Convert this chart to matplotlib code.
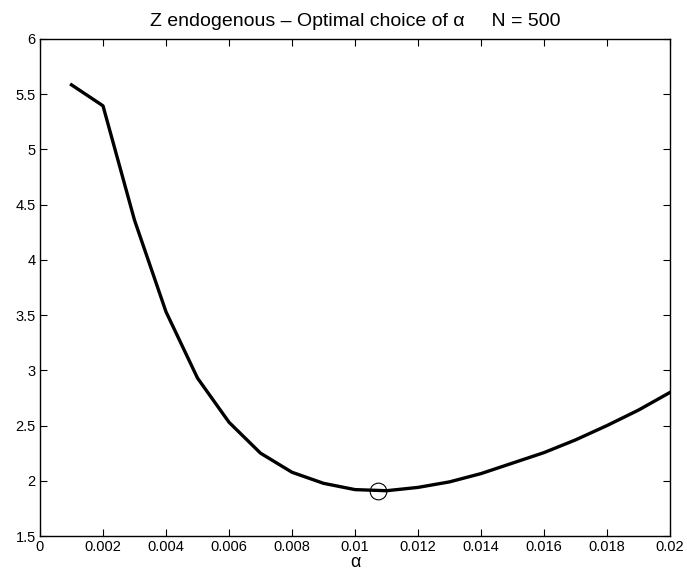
import matplotlib
matplotlib.use('Agg')
import matplotlib.pyplot as plt

plt.rcParams['font.family'] = ['Liberation Sans', 'DejaVu Sans']

# data
alpha = [0.001, 0.002, 0.003, 0.004, 0.005, 0.006, 0.007, 0.008, 0.009, 0.010,
         0.011, 0.012, 0.013, 0.014, 0.015, 0.016, 0.017, 0.018, 0.019, 0.020]
loss = [5.585, 5.395, 4.36, 3.53, 2.93, 2.53, 2.25, 2.077, 1.977, 1.92,
        1.91, 1.94, 1.99, 2.065, 2.16, 2.255, 2.37, 2.50, 2.64, 2.80]
alpha_opt = 0.01072
loss_opt = 1.91

fig = plt.figure(figsize=(6.87, 5.76), dpi=100)
ax = fig.add_axes([40/687, 1 - 536/576, 630/687, 497/576])

ax.plot(alpha, loss, color='black', linewidth=2.4)
ax.plot([alpha_opt], [loss_opt], 'o', markersize=12, markerfacecolor='none',
        markeredgecolor='black', markeredgewidth=0.8)

ax.set_xlim(0, 0.02)
ax.set_ylim(1.5, 6)
ax.set_xticks([i * 0.002 for i in range(11)])
ax.set_xticklabels(['0', '0.002', '0.004', '0.006', '0.008', '0.01',
                    '0.012', '0.014', '0.016', '0.018', '0.02'])
ax.set_yticks([1.5, 2, 2.5, 3, 3.5, 4, 4.5, 5, 5.5, 6])
ax.set_yticklabels(['1.5', '2', '2.5', '3', '3.5', '4', '4.5', '5', '5.5', '6'])
ax.tick_params(direction='in', top=True, right=True, length=5, width=0.8,
               labelsize=10.5, pad=3)
for s in ax.spines.values():
    s.set_linewidth(1.0)

ax.set_xlabel('α', fontsize=13, labelpad=0)
ax.set_title('Z endogenous \u2013 Optimal choice of α     N = 500', fontsize=14, pad=9)

fig.savefig('out.png', dpi=100)
